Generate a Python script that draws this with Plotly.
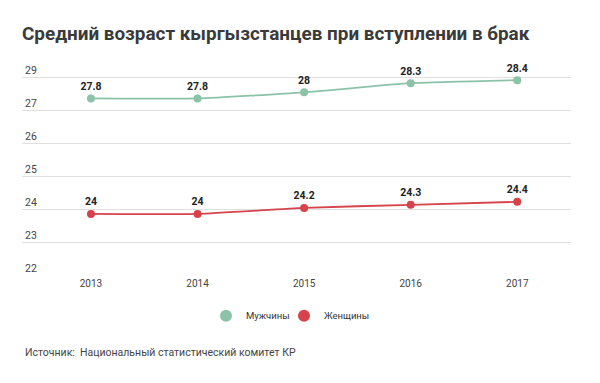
import plotly.graph_objects as go

years = [2013, 2014, 2015, 2016, 2017]
men = [27.8, 27.8, 28.0, 28.3, 28.4]
women = [24.0, 24.0, 24.2, 24.3, 24.4]
men_labels = ["27.8", "27.8", "28", "28.3", "28.4"]
women_labels = ["24", "24", "24.2", "24.3", "24.4"]

# gridline positions (as drawn in the reference) and their printed labels
grid_vals = [21.96, 23.049, 24.139, 25.228, 26.317, 27.407, 28.496]
grid_text = ["22", "23", "24", "25", "26", "27", "29"]

MEN_C = "#8cc2a8"
WOMEN_C = "#d6434b"
FONT = "Roboto, Arial, sans-serif"

# page body has an 8px margin; layout is expressed in figure pixels
L, R, T, B = 14, 37, 52, 114.7
W, H = 600, 383
plot_w = W - L - R
plot_h = H - T - B

fig = go.Figure()
for name, vals, labels, col in [("Мужчины", men, men_labels, MEN_C),
                                ("Женщины", women, women_labels, WOMEN_C)]:
    fig.add_trace(go.Scatter(
        x=years, y=vals, mode="lines+markers+text", text=labels,
        textposition="top center",
        textfont=dict(family=FONT, size=10.5, color="#222222", weight="bold"),
        line=dict(color=col, width=1.8, shape="spline", smoothing=0.5),
        marker=dict(color=col, size=8),
        showlegend=False, hoverinfo="skip", cliponaxis=False))
for name, col, lg in [("Мужчины", MEN_C, "legend"), ("Женщины", WOMEN_C, "legend2")]:
    fig.add_trace(go.Scatter(x=[None], y=[None], mode="markers", name=name,
                             marker=dict(color=col, size=12), legend=lg))

leg_y = (268.3 - 308) / plot_h
leg_common = dict(orientation="h", xanchor="left", y=leg_y, yanchor="middle",
                  font=dict(size=9.5, color="#333333"), itemwidth=30,
                  bgcolor="rgba(0,0,0,0)")
fig.update_layout(
    width=W, height=H,
    margin=dict(l=L, r=R, t=T, b=B),
    paper_bgcolor="white", plot_bgcolor="white",
    font=dict(family=FONT, size=10, color="#333333"),
    title=dict(text="<b>Средний возраст кыргызстанцев при вступлении в брак</b>",
               x=14 / W, xref="container", xanchor="left",
               y=1 - 25 / H, yref="container", yanchor="middle",
               font=dict(family=FONT, size=18.9, color="#3a3a3a")),
    xaxis=dict(range=[2012.353, 2017.504], tickvals=years,
               ticktext=[str(y) for y in years], showgrid=False, zeroline=False,
               showline=False, ticks="", tickfont=dict(size=10, color="#444444")),
    yaxis=dict(range=[21.96, 29.063], tickvals=grid_vals, ticktext=grid_text,
               ticklabelposition="inside top", showgrid=True,
               gridcolor="#e0e0e0", gridwidth=1, zeroline=False, showline=False,
               ticks="", tickfont=dict(size=10.5, color="#444444")),
    legend=dict(x=(198 - L) / plot_w, **leg_common),
    legend2=dict(x=(276 - L) / plot_w, **leg_common),
    annotations=[dict(text="Источник:  Национальный статистический комитет КР",
                      x=(14.5 - L) / plot_w, y=(268.3 - 345) / plot_h,
                      xref="paper", yref="paper",
                      showarrow=False, xanchor="left", yanchor="middle",
                      font=dict(size=10.5, color="#444444"))],
)

fig.write_html("out.html")
